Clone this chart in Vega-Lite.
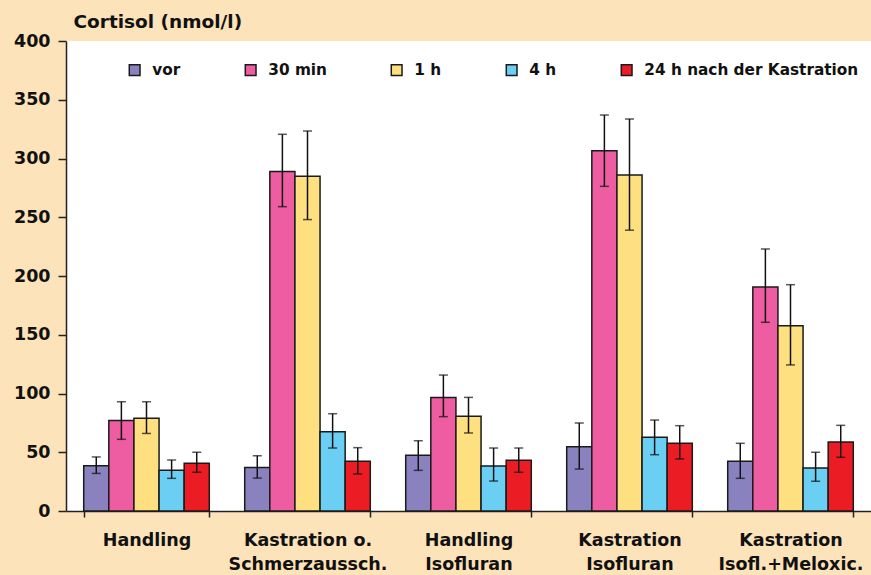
{
  "$schema": "https://vega.github.io/schema/vega-lite/v6.json",
  "width": 805,
  "height": 470,
  "autosize": {"type": "none"},
  "padding": {"left": 66, "top": 41, "right": 0, "bottom": 64},
  "background": "#FDE3BA",
  "config": {
    "view": {"stroke": null, "fill": "#FFFFFF"},
    "font": "DejaVu Sans",
    "axis": {"labelFont": "DejaVu Sans", "titleFont": "DejaVu Sans"},
    "legend": {"labelFont": "DejaVu Sans"}
  },
  "data": {
    "values": [
      {"group": "Handling", "time": "vor", "value": 38.5, "lo": 32, "hi": 46},
      {"group": "Handling", "time": "30 min", "value": 77, "lo": 61, "hi": 93},
      {"group": "Handling", "time": "1 h", "value": 79, "lo": 66, "hi": 93},
      {"group": "Handling", "time": "4 h", "value": 34.6, "lo": 27.8, "hi": 43.4},
      {"group": "Handling", "time": "24 h nach der Kastration", "value": 40.6, "lo": 33, "hi": 50},
      {"group": "Kastration o.\nSchmerzaussch.", "time": "vor", "value": 37, "lo": 28, "hi": 47},
      {"group": "Kastration o.\nSchmerzaussch.", "time": "30 min", "value": 289, "lo": 259, "hi": 320.6},
      {"group": "Kastration o.\nSchmerzaussch.", "time": "1 h", "value": 285, "lo": 248, "hi": 323.4},
      {"group": "Kastration o.\nSchmerzaussch.", "time": "4 h", "value": 67.5, "lo": 53.6, "hi": 82.8},
      {"group": "Kastration o.\nSchmerzaussch.", "time": "24 h nach der Kastration", "value": 42.3, "lo": 31.5, "hi": 53.9},
      {"group": "Handling\nIsofluran", "time": "vor", "value": 47.4, "lo": 34.6, "hi": 59.8},
      {"group": "Handling\nIsofluran", "time": "30 min", "value": 96.7, "lo": 80.3, "hi": 115.7},
      {"group": "Handling\nIsofluran", "time": "1 h", "value": 80.6, "lo": 66.4, "hi": 96.7},
      {"group": "Handling\nIsofluran", "time": "4 h", "value": 38.3, "lo": 25.5, "hi": 53.6},
      {"group": "Handling\nIsofluran", "time": "24 h nach der Kastration", "value": 43.1, "lo": 33, "hi": 53.6},
      {"group": "Kastration\nIsofluran", "time": "vor", "value": 54.7, "lo": 35.7, "hi": 74.9},
      {"group": "Kastration\nIsofluran", "time": "30 min", "value": 306.7, "lo": 276.3, "hi": 337},
      {"group": "Kastration\nIsofluran", "time": "1 h", "value": 286, "lo": 239, "hi": 333.6},
      {"group": "Kastration\nIsofluran", "time": "4 h", "value": 62.7, "lo": 47.9, "hi": 77.4},
      {"group": "Kastration\nIsofluran", "time": "24 h nach der Kastration", "value": 57.6, "lo": 44.3, "hi": 72.6},
      {"group": "Kastration\nIsofl.+Meloxic.", "time": "vor", "value": 42.3, "lo": 27.8, "hi": 57.6},
      {"group": "Kastration\nIsofl.+Meloxic.", "time": "30 min", "value": 190.6, "lo": 160.6, "hi": 223},
      {"group": "Kastration\nIsofl.+Meloxic.", "time": "1 h", "value": 157.7, "lo": 124.3, "hi": 192.6},
      {"group": "Kastration\nIsofl.+Meloxic.", "time": "4 h", "value": 36.6, "lo": 25.3, "hi": 50},
      {"group": "Kastration\nIsofl.+Meloxic.", "time": "24 h nach der Kastration", "value": 58.7, "lo": 45.7, "hi": 72.9}
    ]
  },
  "encoding": {
    "x": {
      "field": "group",
      "type": "nominal",
      "sort": null,
      "scale": {"paddingInner": 0.22, "paddingOuter": 0.11},
      "axis": {
        "title": null,
        "labelAngle": 0,
        "labelExpr": "datum.value ? split(datum.value, '\\n') : ''",
        "labelFontSize": 17.5,
        "labelFontWeight": "bold",
        "labelColor": "#111111",
        "labelLineHeight": 24,
        "labelPadding": 14,
        "labelBaseline": "top",
        "tickBand": "extent",
        "tickSize": 6,
        "tickColor": "#222222",
        "tickWidth": 1.5,
        "domainColor": "#222222",
        "domainWidth": 1.5
      }
    },
    "xOffset": {
      "field": "time",
      "type": "nominal",
      "sort": ["vor", "30 min", "1 h", "4 h", "24 h nach der Kastration"],
      "scale": {"paddingInner": 0, "paddingOuter": 0}
    }
  },
  "layer": [
    {
      "mark": {"type": "bar", "stroke": "#1a1a1a", "strokeWidth": 1.5},
      "encoding": {
        "y": {
          "field": "value",
          "type": "quantitative",
          "scale": {"domain": [0, 400], "nice": false},
          "axis": {
            "values": [0, 50, 100, 150, 200, 250, 300, 350, 400],
            "grid": false,
            "title": "Cortisol (nmol/l)",
            "titleAngle": 0,
            "titleX": 7,
            "titleY": -14,
            "titleAlign": "left",
            "titleBaseline": "alphabetic",
            "titleFontSize": 18.5,
            "titleFontWeight": "bold",
            "titleColor": "#111111",
            "labelFontSize": 17.5,
            "labelFontWeight": "bold",
            "labelColor": "#111111",
            "labelPadding": 8,
            "tickSize": 8,
            "tickColor": "#222222",
            "tickWidth": 1.5,
            "domainColor": "#222222",
            "domainWidth": 1.5
          }
        },
        "color": {
          "field": "time",
          "type": "nominal",
          "sort": ["vor", "30 min", "1 h", "4 h", "24 h nach der Kastration"],
          "scale": {
            "domain": ["vor", "30 min", "1 h", "4 h", "24 h nach der Kastration"],
            "range": ["#8A82BE", "#EE5DA1", "#FEE081", "#6BCEF3", "#EC1C24"]
          },
          "legend": {
            "title": null,
            "orient": "none",
            "legendX": 61,
            "legendY": 21,
            "direction": "horizontal",
            "columns": 5,
            "columnPadding": 61,
            "symbolType": "square",
            "symbolSize": 115,
            "symbolStrokeColor": "#1a1a1a",
            "symbolStrokeWidth": 1.5,
            "symbolOpacity": 1,
            "labelFontSize": 15.3,
            "labelFontWeight": "bold",
            "labelColor": "#111111",
            "labelOffset": 10,
            "labelLimit": 400
          }
        }
      }
    },
    {
      "mark": {"type": "rule", "color": "#111111", "strokeWidth": 1.5},
      "encoding": {
        "y": {"field": "lo", "type": "quantitative"},
        "y2": {"field": "hi"}
      }
    },
    {
      "mark": {"type": "tick", "color": "#111111", "thickness": 1.5, "size": 9, "orient": "horizontal"},
      "encoding": {
        "y": {"field": "lo", "type": "quantitative"}
      }
    },
    {
      "mark": {"type": "tick", "color": "#111111", "thickness": 1.5, "size": 9, "orient": "horizontal"},
      "encoding": {
        "y": {"field": "hi", "type": "quantitative"}
      }
    }
  ]
}
